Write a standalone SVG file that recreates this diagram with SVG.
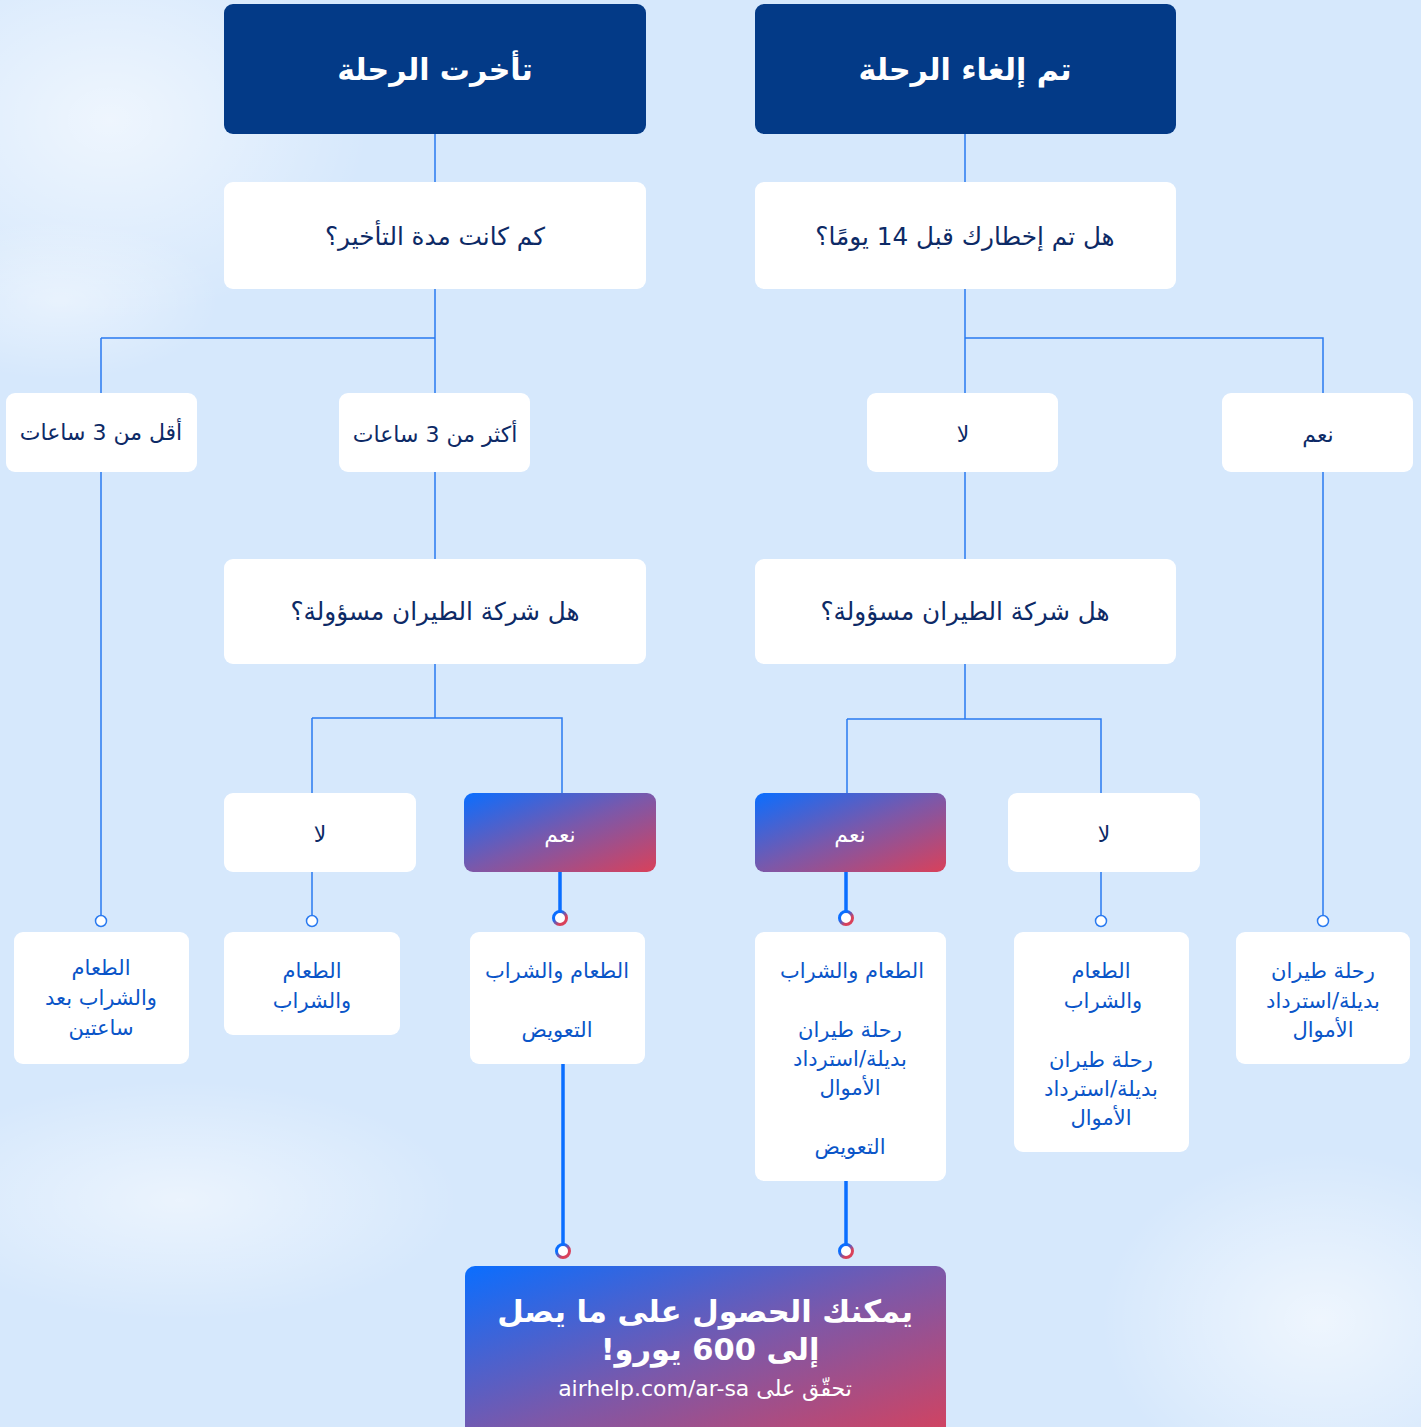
<svg xmlns="http://www.w3.org/2000/svg" width="1421" height="1427" viewBox="0 0 1421 1427">
<defs>
<linearGradient id="grad" x1="0" y1="0" x2="1" y2="1">
<stop offset="0" stop-color="#0a6eff"/>
<stop offset="0.5" stop-color="#7b58aa"/>
<stop offset="1" stop-color="#d9415a"/>
</linearGradient>
<linearGradient id="ringGrad" x1="0" y1="0" x2="1" y2="1">
<stop offset="0.3" stop-color="#0a6eff"/>
<stop offset="0.7" stop-color="#d9415a"/>
</linearGradient>
<radialGradient id="cloud">
<stop offset="0" stop-color="#ffffff" stop-opacity="0.85"/>
<stop offset="0.6" stop-color="#ffffff" stop-opacity="0.35"/>
<stop offset="1" stop-color="#ffffff" stop-opacity="0"/>
</radialGradient>
<style>
text{direction:rtl;text-anchor:middle;font-family:"DejaVu Sans","Noto Sans",sans-serif}
.hdr{fill:#033a87}
.box{fill:#ffffff}
.hdrT{font-size:30px;font-weight:bold;fill:#ffffff}
.q{font-size:24.7px;fill:#0d2a66}
.opt{font-size:22px;fill:#0d2a66}
.optW{font-size:22px;fill:#ffffff}
.res{font-size:21px;fill:#0a55c8}
.big{font-size:30.5px;font-weight:bold;fill:#ffffff}
.url{font-size:22px;fill:#ffffff}
.ln{fill:none;stroke:#2a7af0;stroke-width:1.5}
.thick{fill:none;stroke:#0a6eff;stroke-width:3.5}
.ring{fill:#ffffff;stroke:#2a7af0;stroke-width:1.5}
.ringG{fill:#ffffff;stroke:url(#ringGrad);stroke-width:3}
</style>
</defs>
<rect x="0" y="0" width="1421" height="1427" fill="#d6e8fc"/>
<g id="clouds">
<ellipse cx="110" cy="120" rx="260" ry="200" fill="url(#cloud)" opacity="0.7"/>
<ellipse cx="60" cy="300" rx="160" ry="80" fill="url(#cloud)" opacity="0.5"/>
<ellipse cx="180" cy="1200" rx="280" ry="120" fill="url(#cloud)" opacity="0.6"/>
<ellipse cx="1320" cy="1320" rx="220" ry="170" fill="url(#cloud)" opacity="0.7"/>
</g>
<g id="connectors">
<path class="ln" d="M435 134V182M435 289V393M101 338H435M101 338V915M435 472V559"/>
<path class="ln" d="M965 134V182M965 289V559M965 338H1323V915"/>
<path class="ln" d="M435 664V718M312 718H562V793M312 718V915"/>
<path class="ln" d="M965 664V719M847 719H1101V915M847 719V793"/>
<path class="thick" d="M560 872V912M846 872V912M563 1064V1245M846 1181V1245"/>
<circle class="ring" cx="101" cy="921" r="5.5"/>
<circle class="ring" cx="312" cy="921" r="5.5"/>
<circle class="ring" cx="1101" cy="921" r="5.5"/>
<circle class="ring" cx="1323" cy="921" r="5.5"/>
<circle class="ringG" cx="560" cy="918" r="6.5"/>
<circle class="ringG" cx="846" cy="918" r="6.5"/>
<circle class="ringG" cx="563" cy="1251" r="6.5"/>
<circle class="ringG" cx="846" cy="1251" r="6.5"/>
</g>
<g id="delayed"><rect class="hdr" x="224" y="4" width="422" height="130" rx="9"/><text class="hdrT" x="435" y="80">تأخرت الرحلة</text></g>
<g id="cancelled"><rect class="hdr" x="755" y="4" width="421" height="130" rx="9"/><text class="hdrT" x="965" y="80">تم إلغاء الرحلة</text></g>
<g id="q-delay"><rect class="box" x="224" y="182" width="422" height="107" rx="9"/><text class="q" x="435" y="245">كم كانت مدة التأخير؟</text></g>
<g id="q-notice"><rect class="box" x="755" y="182" width="421" height="107" rx="9"/><text class="q" x="965" y="245">هل تم إخطارك قبل 14 يومًا؟</text></g>
<g id="lt3"><rect class="box" x="6" y="393" width="191" height="79" rx="9"/><text class="opt" x="101" y="440">أقل من 3 ساعات</text></g>
<g id="gt3"><rect class="box" x="339" y="393" width="191" height="79" rx="9"/><text class="opt" x="435" y="442">أكثر من 3 ساعات</text></g>
<g id="notice-no"><rect class="box" x="867" y="393" width="191" height="79" rx="9"/><text class="opt" x="963" y="442">لا</text></g>
<g id="notice-yes"><rect class="box" x="1222" y="393" width="191" height="79" rx="9"/><text class="opt" x="1318" y="442">نعم</text></g>
<g id="q-resp-left"><rect class="box" x="224" y="559" width="422" height="105" rx="9"/><text class="q" x="435" y="620">هل شركة الطيران مسؤولة؟</text></g>
<g id="q-resp-right"><rect class="box" x="755" y="559" width="421" height="105" rx="9"/><text class="q" x="965" y="620">هل شركة الطيران مسؤولة؟</text></g>
<g id="resp-left-no"><rect class="box" x="224" y="793" width="192" height="79" rx="9"/><text class="opt" x="320" y="842">لا</text></g>
<g id="resp-left-yes"><rect fill="url(#grad)" x="464" y="793" width="192" height="79" rx="9"/><text class="optW" x="560" y="842">نعم</text></g>
<g id="resp-right-yes"><rect fill="url(#grad)" x="755" y="793" width="191" height="79" rx="9"/><text class="optW" x="850" y="842">نعم</text></g>
<g id="resp-right-no"><rect class="box" x="1008" y="793" width="192" height="79" rx="9"/><text class="opt" x="1104" y="842">لا</text></g>
<g id="res1"><rect class="box" x="14" y="932" width="175" height="132" rx="9"/>
<text class="res" x="101" y="975">الطعام</text><text class="res" x="101" y="1005">والشراب بعد</text><text class="res" x="101" y="1035">ساعتين</text></g>
<g id="res2"><rect class="box" x="224" y="932" width="176" height="103" rx="9"/>
<text class="res" x="312" y="978">الطعام</text><text class="res" x="312" y="1008">والشراب</text></g>
<g id="res3"><rect class="box" x="470" y="932" width="175" height="132" rx="9"/>
<text class="res" x="557" y="978">الطعام والشراب</text><text class="res" x="557" y="1037">التعويض</text></g>
<g id="res4"><rect class="box" x="755" y="932" width="191" height="249" rx="9"/>
<text class="res" x="852" y="978">الطعام والشراب</text><text class="res" x="850" y="1037">رحلة طيران</text><text class="res" x="850" y="1066">بديلة/استرداد</text><text class="res" x="850" y="1095">الأموال</text><text class="res" x="850" y="1154">التعويض</text></g>
<g id="res5"><rect class="box" x="1014" y="932" width="175" height="220" rx="9"/>
<text class="res" x="1101" y="978">الطعام</text><text class="res" x="1103" y="1008">والشراب</text><text class="res" x="1101" y="1067">رحلة طيران</text><text class="res" x="1101" y="1096">بديلة/استرداد</text><text class="res" x="1101" y="1125">الأموال</text></g>
<g id="res6"><rect class="box" x="1236" y="932" width="174" height="132" rx="9"/>
<text class="res" x="1323" y="978">رحلة طيران</text><text class="res" x="1323" y="1008">بديلة/استرداد</text><text class="res" x="1323" y="1037">الأموال</text></g>
<g id="final"><rect fill="url(#grad)" x="465" y="1266" width="481" height="180" rx="10"/>
<text class="big" x="705" y="1322">يمكنك الحصول على ما يصل</text>
<text class="big" x="710" y="1360">إلى 600 يورو!</text>
<text class="url" x="705" y="1396">تحقّق على airhelp.com/ar-sa</text></g>
</svg>
